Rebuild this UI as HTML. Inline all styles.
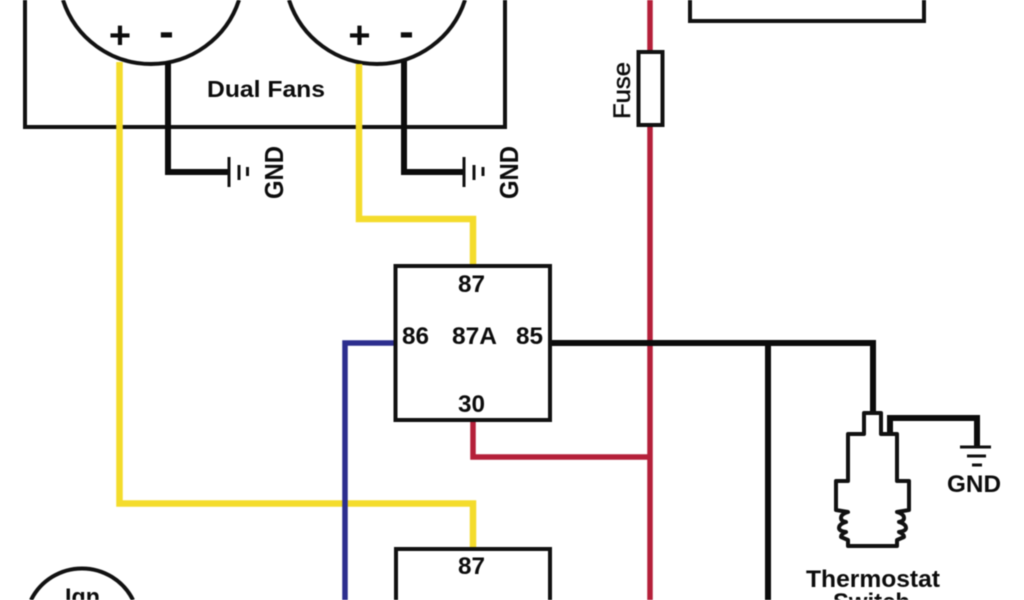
<!DOCTYPE html>
<html><head><meta charset="utf-8"><style>
html,body{margin:0;padding:0;background:#fff;width:1024px;height:600px;overflow:hidden}
svg{display:block;filter:blur(.5px)}
text{font-family:"Liberation Sans",sans-serif;font-weight:bold;fill:#0c0c0c}
</style></head><body>
<svg width="1024" height="600" viewBox="0 0 1024 600" xmlns="http://www.w3.org/2000/svg">
<g fill="none" stroke-linejoin="miter">
<path d="M25 0V127H505V0" stroke="#111" stroke-width="4"/>
<path d="M63 0A92.500 92.500 0 0 0 239 0" stroke="#111" stroke-width="4"/>
<path d="M289 0A92.500 92.500 0 0 0 465 0" stroke="#111" stroke-width="4"/>
<path d="M690 0V21H924V0" stroke="#111" stroke-width="4"/>
<path d="M168 62V172H229" stroke="#0c0c0c" stroke-width="6"/>
<path d="M404 61V172H464" stroke="#0c0c0c" stroke-width="6"/>
<path d="M119.500 62V503.500H473V549" stroke="#f4dc2c" stroke-width="6.500"/>
<path d="M359 64V219H473V266" stroke="#f4dc2c" stroke-width="6.500"/>
<path d="M650 0V600" stroke="#b5203a" stroke-width="5.500"/>
<path d="M473 420V457H650" stroke="#b5203a" stroke-width="5.500"/>
<path d="M395 343H345V600" stroke="#2c2e8e" stroke-width="5.500"/>
<path d="M550 343H873V414" stroke="#0c0c0c" stroke-width="6"/>
<path d="M768 343V600" stroke="#0c0c0c" stroke-width="6"/>
<path d="M890 434V418H977V447" stroke="#0c0c0c" stroke-width="6"/>
<g stroke="#111">
<path d="M229 157V187" stroke-width="3"/><path d="M239 165V180" stroke-width="3"/><path d="M247.500 167V176" stroke-width="3"/>
<path d="M464 157V187" stroke-width="3"/><path d="M474 165V180" stroke-width="3"/><path d="M483 167V176" stroke-width="3"/>
<path d="M960 447H991" stroke-width="3"/><path d="M967 456H986" stroke-width="3"/><path d="M972 465H982" stroke-width="3"/>
</g>
<rect x="395.500" y="266" width="154.500" height="154" fill="#fff" stroke="#111" stroke-width="4"/>
<path d="M396 600V549H550V600" fill="#fff" stroke="#111" stroke-width="4"/>
<rect x="638.500" y="52" width="24" height="73" fill="#fff" stroke="#111" stroke-width="4"/>
<path d="M31 600A57 57 0 0 1 133 600" stroke="#111" stroke-width="4"/>
<path d="M864 434V413H881V434H897V481H909V510L897 512Q904 514 904 518Q904 521 899 522Q906 524 906 528Q906 531 899 532Q904 534 904 537L897 540V546H848V540L841 537Q841 534 846 532Q839 531 839 528Q839 524 846 522Q841 521 841 518Q841 514 848 512L836 510V481H848V434Z" fill="#fff" stroke="#111" stroke-width="4" stroke-linejoin="round"/>
</g>
<text x="120" y="48" font-size="38" text-anchor="middle">+</text>
<text x="166.500" y="46" font-size="44" text-anchor="middle">-</text>
<text x="359.500" y="48" font-size="38" text-anchor="middle">+</text>
<text x="406.500" y="46" font-size="44" text-anchor="middle">-</text>
<text x="207" y="97" font-size="23" textLength="118" lengthAdjust="spacingAndGlyphs">Dual Fans</text>
<text transform="translate(283,199) rotate(-90)" font-size="26" textLength="53" lengthAdjust="spacingAndGlyphs">GND</text>
<text transform="translate(518,199) rotate(-90)" font-size="26" textLength="53" lengthAdjust="spacingAndGlyphs">GND</text>
<text transform="translate(630,119) rotate(-90)" font-size="24" style="font-weight:normal;stroke:#0c0c0c;stroke-width:.5px" textLength="57" lengthAdjust="spacingAndGlyphs">Fuse</text>
<text x="458" y="292" font-size="24" textLength="27" lengthAdjust="spacingAndGlyphs">87</text>
<text x="402" y="344" font-size="24" textLength="27" lengthAdjust="spacingAndGlyphs">86</text>
<text x="452" y="344" font-size="24" textLength="45" lengthAdjust="spacingAndGlyphs">87A</text>
<text x="516" y="344" font-size="24" textLength="27" lengthAdjust="spacingAndGlyphs">85</text>
<text x="458" y="412" font-size="24" textLength="27" lengthAdjust="spacingAndGlyphs">30</text>
<text x="458" y="574" font-size="24" textLength="27" lengthAdjust="spacingAndGlyphs">87</text>
<text x="947" y="492" font-size="24" textLength="54" lengthAdjust="spacingAndGlyphs">GND</text>
<text x="806" y="587" font-size="24" textLength="134" lengthAdjust="spacingAndGlyphs">Thermostat</text>
<text x="833" y="610" font-size="24" textLength="77" lengthAdjust="spacingAndGlyphs">Switch</text>
<text x="65" y="605" font-size="24" textLength="35" lengthAdjust="spacingAndGlyphs">Ign</text>
</svg>
</body></html>
